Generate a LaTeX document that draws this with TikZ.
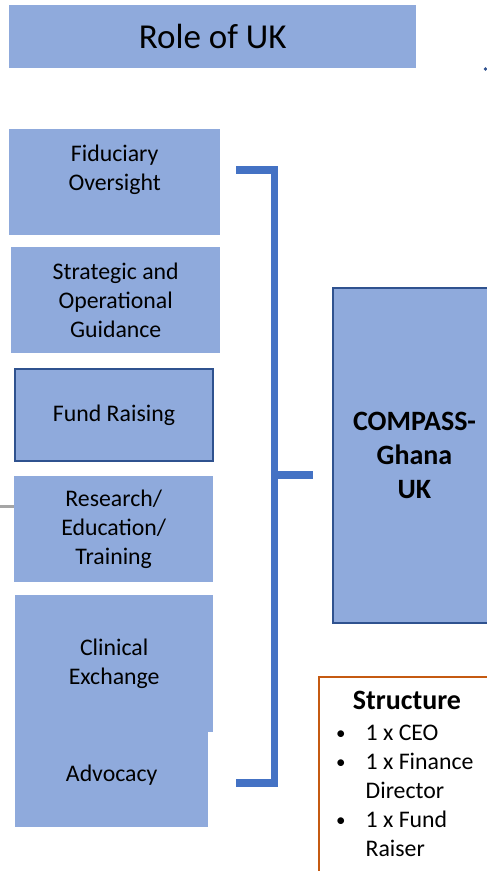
\documentclass[tikz,border=0pt]{standalone}
\usepackage{fontspec}
\setmainfont{Carlito}
\usetikzlibrary{positioning}

\definecolor{boxfill}{HTML}{8FAADC}
\definecolor{boxline}{HTML}{2F528F}
\definecolor{bracketblue}{HTML}{4472C4}
\definecolor{structline}{HTML}{C55A11}
\definecolor{greyline}{HTML}{A5A5A5}

\newcommand{\smallbullet}{\raisebox{1.5pt}{\fontsize{19}{19}\selectfont\textbullet}}

\begin{document}
\begin{tikzpicture}[x=1pt,y=-1pt,
    role/.style={rectangle,fill=boxfill,inner sep=0pt,align=center,anchor=north west,
      font=\fontsize{23.8}{29}\selectfont},
    rolemarked/.style={role,draw=boxline,line width=2pt},
    bracket/.style={draw=bracketblue,line width=7.5pt},
    structbox/.style={rectangle,draw=structline,line width=2pt,fill=white,
      anchor=north west,inner sep=0pt,minimum width=200,minimum height=230}]
  \clip (0,0) rectangle (487,871);
  \useasboundingbox (0,0) rectangle (487,871);

  % heading
  \node[role,minimum width=407,minimum height=63,font=\fontsize{35}{42}\selectfont]
    (title) at (9,5) {Role of UK};

  % roles of the UK charity
  \node[role,minimum width=211,minimum height=106] (fiduciary) at (9,129)
    {Fiduciary\\Oversight\\~};
  \node[role,minimum width=209,minimum height=106] (strategic) at (11,247)
    {Strategic and\\Operational\\Guidance};
  \node[rolemarked,minimum width=198,minimum height=92] (fundraising) at (14,368)
    {Fund Raising};
  \node[role,minimum width=199,minimum height=106] (research) at (14,476)
    {Research/\\Education/\\Training};
  \node[role,minimum width=198,minimum height=137] (clinical) at (15,595)
    {Clinical\\Exchange};
  \node[role,minimum width=193,minimum height=95,anchor=north,below=-1pt of clinical,
    xshift=-2.5pt] (advocacy) {Advocacy\\[-18pt]~};

  % organisation the roles feed into
  \node[rolemarked,minimum width=163,minimum height=335,anchor=north west,
    font=\fontsize{28}{34}\selectfont\bfseries] (compass) at (332,287)
    {COMPASS-\\Ghana\\UK};

  % bracket grouping the roles
  \coordinate (brtop) at (236,170);
  \coordinate (brbottom) at (236,783);
  \coordinate (brtick) at (274.5,475);
  \coordinate (brtickend) at (313,475);
  \draw[bracket] (brtop) -- ++(38.5,0) |- (brbottom);
  \draw[bracket] (brtick) -- (brtickend);

  % stray connector ends
  \coordinate (greystart) at (0,506);
  \draw[greyline,line width=3pt] (greystart) -- (greystart -| research.west);
  \fill[boxline] (485.5,69) circle (1.8);

  % staffing
  \node[structbox] (structure) at (318,676) {};
  \node[anchor=north,font=\fontsize{28}{32}\selectfont\bfseries] (structtitle)
    at (407,688) {Structure};
  \node[anchor=north west,inner sep=0pt,align=left,font=\fontsize{23.8}{29}\selectfont]
    (structlist) at (336,720) {%
    \begin{tabular}{@{}l@{\hspace{20pt}}l@{}}
      \smallbullet & 1 x CEO\\
      \smallbullet & 1 x Finance\\
                   & Director\\
      \smallbullet & 1 x Fund\\
                   & Raiser
    \end{tabular}};
\end{tikzpicture}
\end{document}
